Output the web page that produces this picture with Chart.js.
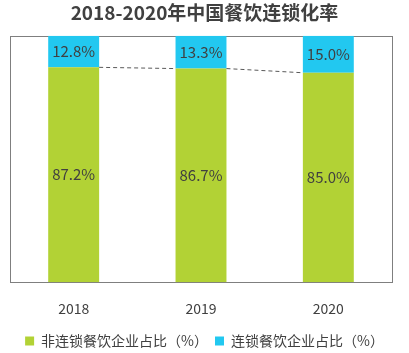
<!DOCTYPE html>
<html>
<head>
<meta charset="utf-8">
<script src="https://cdn.jsdelivr.net/npm/chart.js@4.4.0/dist/chart.umd.min.js"></script>
<style>
  html, body { margin: 0; padding: 0; background: #fff; }
  #wrap { width: 409px; height: 353px; }
</style>
</head>
<body>
<div id="wrap"><canvas id="myChart" width="409" height="353"></canvas></div>
<script>
const years = ['2018', '2019', '2020'];
const nonChain = [87.2, 86.7, 85.0];
const chain = [12.8, 13.3, 15.0];
const seriesNames = ['非连锁餐饮企业占比（%）', '连锁餐饮企业占比（%）'];

const FONT = '"Noto Sans CJK SC", "Open Sans", sans-serif';

// frame around plot area + dashed series lines between bar tops
const extras = {
    id: 'extras',
    beforeDatasetsDraw(chart) {
        const ctx = chart.ctx;
        const a = chart.chartArea;
        ctx.save();
        ctx.strokeStyle = '#7f7f7f';
        ctx.lineWidth = 1;
        ctx.strokeRect(Math.round(a.left) + 0.5, Math.round(a.top) + 0.5, Math.round(a.right - a.left), Math.round(a.bottom - a.top));
        ctx.restore();
    },
    afterDatasetsDraw(chart) {
        const ctx = chart.ctx;
        const meta = chart.getDatasetMeta(0);
        const y = chart.scales.y;
        ctx.save();
        ctx.strokeStyle = '#595959';
        ctx.lineWidth = 1;
        ctx.setLineDash([4, 3]);
        for (let i = 0; i < meta.data.length - 1; i++) {
            const b1 = meta.data[i], b2 = meta.data[i + 1];
            ctx.beginPath();
            ctx.moveTo(b1.x + b1.width / 2, y.getPixelForValue(nonChain[i]));
            ctx.lineTo(b2.x - b2.width / 2, y.getPixelForValue(nonChain[i + 1]));
            ctx.stroke();
        }
        ctx.restore();
    }
};

// value labels in the bar segments
const labels = {
    id: 'labels',
    afterDatasetsDraw(chart) {
        const ctx = chart.ctx;
        ctx.save();
        ctx.font = '15px ' + FONT;
        ctx.fillStyle = '#404040';
        ctx.textAlign = 'center';
        ctx.textBaseline = 'middle';
        chart.data.datasets.forEach((ds, di) => {
            chart.getDatasetMeta(di).data.forEach((bar, i) => {
                const mid = (bar.y + bar.base) / 2;
                ctx.fillText(ds.data[i].toFixed(1) + '%', bar.x, mid);
            });
        });
        ctx.restore();
    }
};

const ctx = document.getElementById('myChart').getContext('2d');
const myChart = new Chart(ctx, {
    type: 'bar',
    data: {
        labels: years,
        datasets: [
            { label: seriesNames[0], data: nonChain, backgroundColor: '#b2d235', borderWidth: 0 },
            { label: seriesNames[1], data: chain, backgroundColor: '#22c8f0', borderWidth: 0 }
        ]
    },
    options: {
        responsive: false,
        animation: false,
        layout: { padding: { left: 0, right: 0, top: 0, bottom: -5 } },
        datasets: { bar: { categoryPercentage: 1, barPercentage: 0.4 } },
        scales: {
            x: {
                stacked: true,
                grid: { display: false },
                border: { display: false },
                ticks: { color: '#404040', font: { family: FONT, size: 14 }, padding: 10 }
            },
            y: {
                stacked: true,
                min: 0,
                max: 100,
                grid: { display: false },
                border: { display: false },
                ticks: { display: false },
                afterFit(scale) { scale.width = 10; }
            },
            yRight: {
                position: 'right',
                min: 0,
                max: 100,
                grid: { display: false },
                border: { display: false },
                ticks: { display: false },
                afterFit(scale) { scale.width = 17; }
            }
        },
        plugins: {
            title: {
                display: true,
                text: '2018-2020年中国餐饮连锁化率',
                color: '#404040',
                font: { family: FONT, size: 19, weight: 'bold' },
                padding: { top: 1, bottom: 12 }
            },
            legend: {
                position: 'bottom',
                labels: {
                    color: '#404040',
                    font: { family: FONT, size: 14 },
                    boxWidth: 9,
                    boxHeight: 9,
                    padding: 7
                }
            },
            tooltip: { enabled: false }
        }
    },
    plugins: [extras, labels]
});
</script>
</body>
</html>
